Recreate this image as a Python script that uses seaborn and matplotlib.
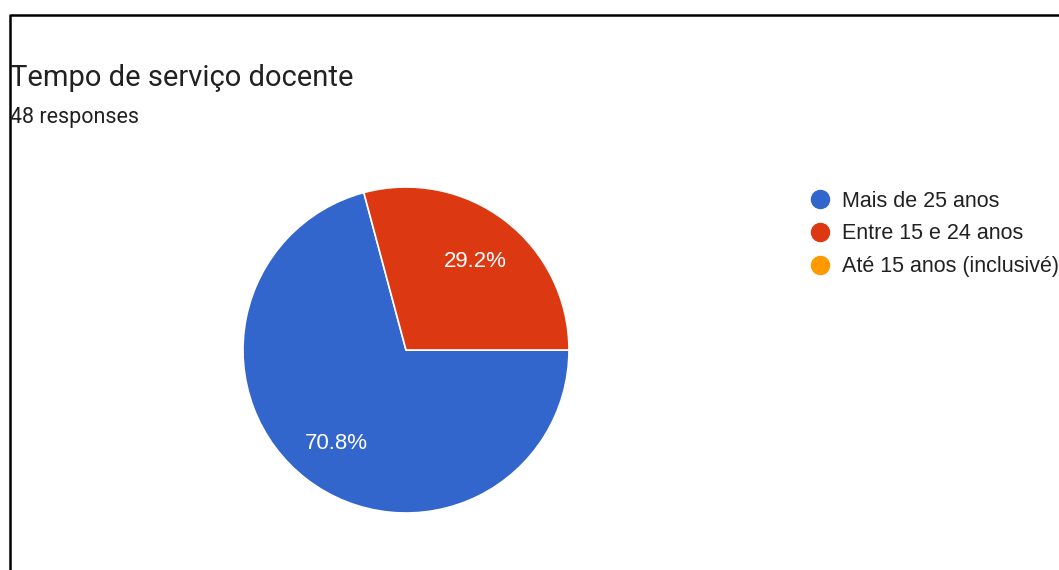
import matplotlib
matplotlib.use("Agg")
import matplotlib.pyplot as plt
from matplotlib.lines import Line2D
import seaborn as sns

# --- Data ---
TITLE = "Tempo de serviço docente"
SUBTITLE = "48 responses"
categories = ["Mais de 25 anos", "Entre 15 e 24 anos", "Até 15 anos (inclusivé)"]
counts = [34, 14, 0]
colors = ["#3366CC", "#DC3912", "#FF9900"]

TEXT = "#212121"
ARIAL = ["Liberation Sans", "DejaVu Sans"]

sns.set_theme(style="white")
plt.rcParams["font.family"] = ["Roboto", "DejaVu Sans"]

W, H = 1059, 570
fig = plt.figure(figsize=(W / 100, H / 100), dpi=100)
fig.patch.set_facecolor("white")

# pie axes: center (406, 350) px, radius 163 px
cx, cy, r = 406, 350, 163
pad = 1.02
ax = fig.add_axes([(cx - r * pad) / W, (H - cy - r * pad) / H, 2 * r * pad / W, 2 * r * pad / H])

palette = sns.color_palette(colors)
vals = [v for v in counts if v > 0]
cols = [c for v, c in zip(counts, palette) if v > 0]

wedges, texts, autotexts = ax.pie(
    vals, colors=cols, startangle=0, counterclock=False,
    autopct=lambda p: f"{p:.1f}%" if p > 0 else "", pctdistance=0.70,
    textprops=dict(color="white", fontsize=16, family=ARIAL),
    wedgeprops=dict(edgecolor="white", linewidth=1.2))
for t in autotexts:
    t.set_va("center_baseline")
ax.set_xlim(-pad, pad)
ax.set_ylim(-pad, pad)
ax.set_aspect("equal")
ax.axis("off")

fig.text(10 / W, 1 - 78 / H, TITLE, fontsize=21, color=TEXT, va="center", ha="left")
fig.text(10 / W, 1 - 117 / H, SUBTITLE, fontsize=15.5, color=TEXT, va="center", ha="left")

handles = [Line2D([0], [0], marker="o", linestyle="none", markersize=13,
                  markerfacecolor=c, markeredgecolor=c) for c in palette]
leg = fig.legend(handles, categories, loc="upper left",
                 bbox_to_anchor=(801 / W, 1 - 182 / H), frameon=False,
                 prop=dict(family=ARIAL, size=15.5), labelcolor=TEXT,
                 handletextpad=0.5, labelspacing=0.55, borderaxespad=0,
                 handlelength=1.0)

# screenshot frame (top and left edges)
fig.add_artist(Line2D([9.5 / W, 9.5 / W, 1], [0, 1 - 14.5 / H, 1 - 14.5 / H],
                      transform=fig.transFigure, color="black", linewidth=1.8))

fig.savefig("out.png", dpi=100)
